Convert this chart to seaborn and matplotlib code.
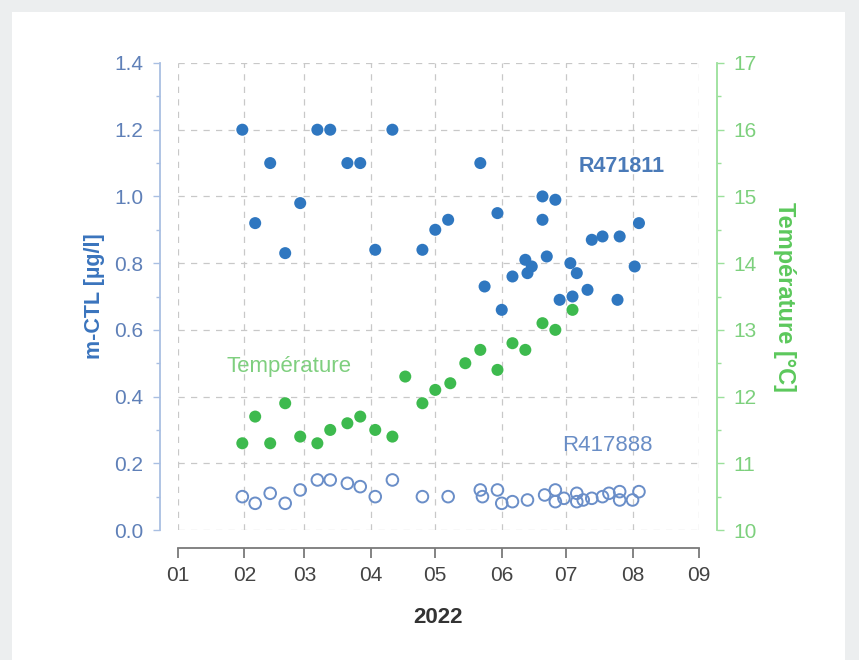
import pandas as pd
import matplotlib
matplotlib.use('Agg')
import matplotlib.pyplot as plt
import matplotlib.dates as mdates
from matplotlib.ticker import MultipleLocator
from matplotlib.patches import Rectangle
import seaborn as sns

# données
r471811_dates = ['01-31', '02-06', '02-13', '02-20', '02-27', '03-07', '03-13', '03-21', '03-27', '04-03',
                 '04-11', '04-25', '05-01', '05-07', '05-22', '05-24', '05-30', '06-01', '06-06', '06-12',
                 '06-13', '06-15', '06-20', '06-20', '06-22', '06-26', '06-28', '07-03', '07-04', '07-06',
                 '07-11', '07-13', '07-18', '07-25', '07-26', '08-02', '08-04']
r471811_values = [1.20, 0.92, 1.10, 0.83, 0.98, 1.20, 1.20, 1.10, 1.10, 0.84,
                  1.20, 0.84, 0.90, 0.93, 1.10, 0.73, 0.95, 0.66, 0.76, 0.81,
                  0.77, 0.79, 1.00, 0.93, 0.82, 0.99, 0.69, 0.80, 0.70, 0.77,
                  0.72, 0.87, 0.88, 0.69, 0.88, 0.79, 0.92]

r417888_dates = ['01-31', '02-06', '02-13', '02-20', '02-27', '03-07', '03-13', '03-21', '03-27', '04-03',
                 '04-11', '04-25', '05-07', '05-22', '05-23', '05-30', '06-01', '06-06', '06-13', '06-21',
                 '06-26', '06-26', '06-30', '07-06', '07-06', '07-09', '07-13', '07-18', '07-21', '07-26',
                 '07-26', '08-01', '08-04']
r417888_values = [0.10, 0.08, 0.11, 0.08, 0.12, 0.15, 0.15, 0.14, 0.13, 0.10,
                  0.15, 0.10, 0.10, 0.12, 0.10, 0.12, 0.08, 0.085, 0.09, 0.105,
                  0.12, 0.085, 0.095, 0.11, 0.085, 0.09, 0.095, 0.10, 0.11, 0.115,
                  0.09, 0.09, 0.115]

temp_dates = ['01-31', '02-06', '02-13', '02-20', '02-27', '03-07', '03-13', '03-21', '03-27', '04-03',
              '04-11', '04-17', '04-25', '05-01', '05-08', '05-15', '05-22', '05-30', '06-06', '06-12',
              '06-20', '06-26', '07-04']
temp_values = [11.3, 11.7, 11.3, 11.9, 11.4, 11.3, 11.5, 11.6, 11.7, 11.5,
               11.4, 12.3, 11.9, 12.1, 12.2, 12.5, 12.7, 12.4, 12.8, 12.7,
               13.1, 13.0, 13.3]

year = '2022'

blue = '#2f77c0'
green = '#3dba4e'

df_a = pd.DataFrame({'date': pd.to_datetime([year + '-' + d for d in r471811_dates]), 'val': r471811_values})
df_b = pd.DataFrame({'date': pd.to_datetime([year + '-' + d for d in r417888_dates]), 'val': r417888_values})
df_t = pd.DataFrame({'date': pd.to_datetime([year + '-' + d for d in temp_dates]), 'val': temp_values})

sns.set_style('white')
plt.rcParams['font.family'] = ['Liberation Sans', 'DejaVu Sans']

fig = plt.figure(figsize=(8.59, 6.6), dpi=100, facecolor='#eceeef')
fig.patches.append(Rectangle((12 / 859, 0), 833 / 859, 648 / 660, transform=fig.transFigure,
                             facecolor='white', edgecolor='none', zorder=-1))

ax = fig.add_axes([178 / 859, 130 / 660, 521 / 859, 467 / 660])
ax.patch.set_alpha(0)
ax2 = ax.twinx()

sns.scatterplot(data=df_a, x='date', y='val', ax=ax, color=blue, s=75, edgecolor='none', zorder=3)
sns.scatterplot(data=df_b, x='date', y='val', ax=ax, s=70, marker='o',
                facecolor='none', edgecolor='#6a8ec8', linewidth=1.4, zorder=3)
sns.scatterplot(data=df_t, x='date', y='val', ax=ax2, color=green, s=75, edgecolor='none', zorder=3)

ax.set_xlim(pd.Timestamp('2022-01-01'), pd.Timestamp('2022-09-01'))
ax.set_ylim(0, 1.4)
ax2.set_ylim(10, 17)

ax.xaxis.set_major_locator(mdates.MonthLocator())
ax.xaxis.set_major_formatter(mdates.DateFormatter('%m'))
ax.yaxis.set_major_locator(MultipleLocator(0.2))
ax.yaxis.set_minor_locator(MultipleLocator(0.1))
ax.yaxis.set_major_formatter(plt.FormatStrFormatter('%.1f'))
ax2.yaxis.set_major_locator(MultipleLocator(1))
ax2.yaxis.set_minor_locator(MultipleLocator(0.5))

ax.grid(True, which='major', color='#c8c8c8', linestyle=(0, (5, 5)), linewidth=0.9)
ax.set_axisbelow(True)

for s in ['top', 'right']:
    ax.spines[s].set_visible(False)
for s in ['top', 'left', 'bottom']:
    ax2.spines[s].set_visible(False)
ax.spines['left'].set_position(('outward', 13))
ax.spines['bottom'].set_position(('outward', 13))
ax2.spines['right'].set_position(('outward', 13))
ax.spines['left'].set_color('#a9bfe2')
ax.spines['bottom'].set_color('#7a7a7a')
ax2.spines['right'].set_color('#9be09b')
for sp in [ax.spines['left'], ax.spines['bottom'], ax2.spines['right']]:
    sp.set_linewidth(1.3)

ax.tick_params(axis='y', which='major', length=5, width=1, color='#a9bfe2', labelcolor='#5f80b8',
               labelsize=15, pad=7, left=True)
ax.tick_params(axis='y', which='minor', length=3, width=1, color='#a9bfe2', left=True)
ax.tick_params(axis='x', which='major', length=7, width=1.3, color='#7a7a7a', labelcolor='#444444',
               labelsize=15, pad=6, bottom=True)
ax2.tick_params(axis='y', which='major', length=5, width=1, color='#9be09b', labelcolor='#7dd07d',
                labelsize=15, pad=7, right=True)
ax2.tick_params(axis='y', which='minor', length=3, width=1, color='#9be09b', right=True)

ax.set_ylabel('m-CTL [µg/l]', color='#3a74bd', fontsize=15.5, fontweight='bold', va='center')
ax.yaxis.set_label_coords(-0.16, 0.5)
ax.set_xlabel('2022', color='#333333', fontsize=16, fontweight='bold', va='center')
ax.xaxis.set_label_coords(0.5, -0.188)
ax2.set_ylabel('Température [°C]', color='#5cc85c', fontsize=17, fontweight='bold', rotation=270,
               va='center')
ax2.yaxis.set_label_coords(1.165, 0.5)

ax.text(0.852, 0.779, 'R471811', transform=ax.transAxes, ha='center', va='center',
        color='#4a7ab8', fontsize=15.5, fontweight='bold')
ax.text(0.825, 0.18, 'R417888', transform=ax.transAxes, ha='center', va='center',
        color='#6a8ec6', fontsize=16)
ax.text(0.213, 0.351, 'Température', transform=ax.transAxes, ha='center', va='center',
        color='#7fcf7f', fontsize=16)

plt.savefig('out.png', dpi=100, facecolor=fig.get_facecolor())
